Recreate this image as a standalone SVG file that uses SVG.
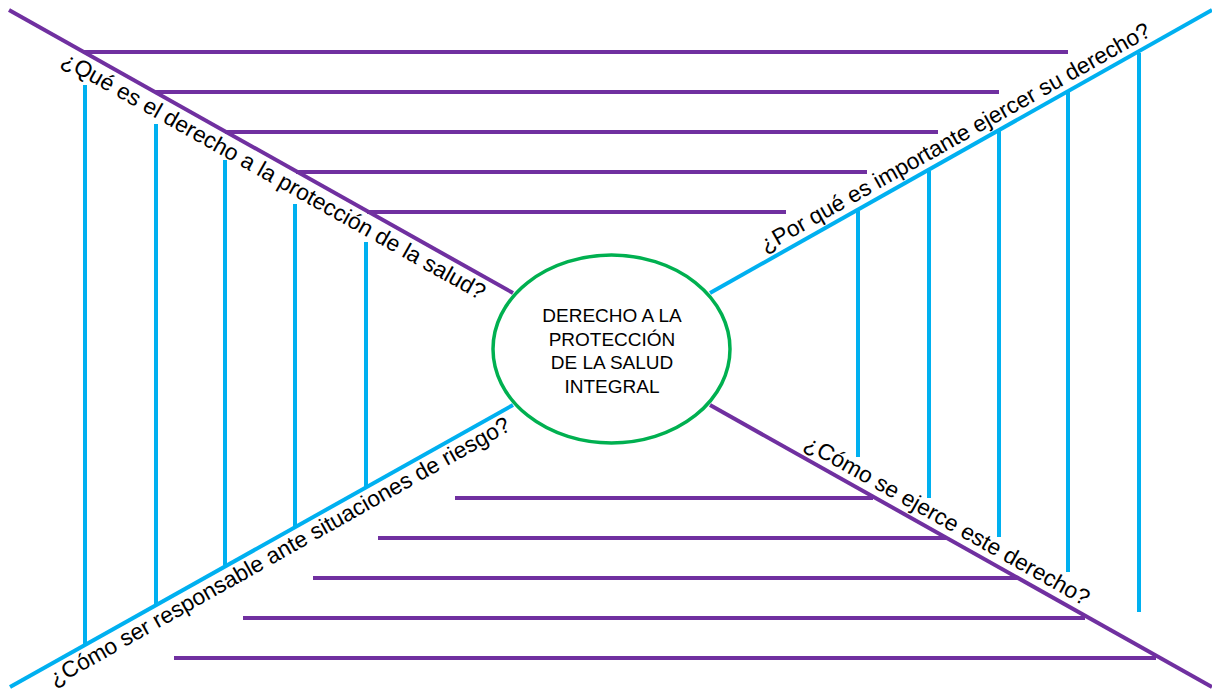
<svg xmlns="http://www.w3.org/2000/svg" width="1212" height="690" viewBox="0 0 1212 690">
<style>
.p{stroke:#7030A0;stroke-width:4;fill:none}
.b{stroke:#00B0F0;stroke-width:4;fill:none}
.q{font-family:"Liberation Sans",Arial,sans-serif;font-size:22.7px;fill:#000}
.c{font-family:"Liberation Sans",Arial,sans-serif;font-size:19px;fill:#000;text-anchor:middle}
</style>
<rect width="1212" height="690" fill="#fff"/>
<g id="connectors">
<line class="p" x1="9" y1="10" x2="513" y2="293"/>
<line class="p" x1="710" y1="405" x2="1212" y2="687"/>
<line class="b" x1="10" y1="687" x2="513" y2="405"/>
<line class="b" x1="710" y1="293" x2="1212" y2="10"/>
</g>
<g id="top-lines">
<line class="p" x1="83" y1="52" x2="1068" y2="52"/>
<line class="p" x1="155" y1="92" x2="999" y2="92"/>
<line class="p" x1="225" y1="132" x2="938" y2="132"/>
<line class="p" x1="296" y1="172" x2="867" y2="172"/>
<line class="p" x1="367" y1="212" x2="786" y2="212"/>
</g>
<g id="bottom-lines">
<line class="p" x1="455" y1="498" x2="873" y2="498"/>
<line class="p" x1="378" y1="538" x2="946" y2="538"/>
<line class="p" x1="313" y1="578" x2="1019" y2="578"/>
<line class="p" x1="243" y1="618" x2="1085" y2="618"/>
<line class="p" x1="174" y1="658" x2="1156" y2="658"/>
</g>
<g id="left-lines">
<line class="b" x1="85" y1="85" x2="85" y2="644"/>
<line class="b" x1="156" y1="124" x2="156" y2="604"/>
<line class="b" x1="225" y1="160" x2="225" y2="565"/>
<line class="b" x1="295" y1="204" x2="295" y2="526"/>
<line class="b" x1="366" y1="242" x2="366" y2="487"/>
</g>
<g id="right-lines">
<line class="b" x1="858" y1="211" x2="858" y2="457"/>
<line class="b" x1="929" y1="171" x2="929" y2="498"/>
<line class="b" x1="999" y1="131" x2="999" y2="537"/>
<line class="b" x1="1068" y1="92" x2="1068" y2="572"/>
<line class="b" x1="1139" y1="53" x2="1139" y2="612"/>
</g>
<g id="q-top-left" transform="translate(9,10) rotate(29.33)">
<text class="q" x="71" y="22.5">¿Qué es el derecho a la protección de la salud?</text>
</g>
<g id="q-top-right" transform="translate(710,293) rotate(-29.33)">
<text class="q" x="68" y="-8">¿Por qué es importante ejercer su derecho?</text>
</g>
<g id="q-bottom-left" transform="translate(10,687) rotate(-29.33)">
<text class="q" x="39" y="21.5">¿Cómo ser responsable ante situaciones de riesgo?</text>
</g>
<g id="q-bottom-right" transform="translate(710,405) rotate(29.33)">
<text class="q" x="102" y="-8">¿Cómo se ejerce este derecho?</text>
</g>
<g id="center">
<ellipse cx="611.5" cy="349" rx="118.5" ry="94" fill="#fff" stroke="#00B050" stroke-width="3.5"/>
<text class="c" x="612" y="322">DERECHO A LA</text>
<text class="c" x="612" y="345.5">PROTECCIÓN</text>
<text class="c" x="612" y="369">DE LA SALUD</text>
<text class="c" x="612" y="393">INTEGRAL</text>
</g>
</svg>
